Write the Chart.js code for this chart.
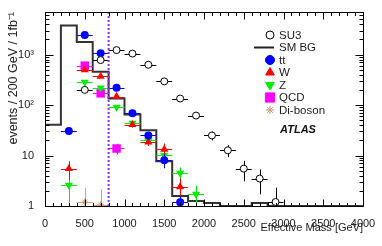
<!DOCTYPE html>
<html>
<head>
<meta charset="utf-8">
<script src="https://cdn.jsdelivr.net/npm/chart.js@4.4.0/dist/chart.umd.min.js"></script>
<style>
  html, body { margin: 0; padding: 0; background: #fff; }
  #wrap { width: 382px; height: 246px; }
</style>
</head>
<body>
<div id="wrap"><canvas id="c"></canvas></div>
<script>
// histogram bin edges (GeV) and SM background per 200 GeV bin
const binEdges = [0, 200, 400, 600, 800, 1000, 1200, 1400, 1600, 1800, 2000,
                  2200, 2400, 2600, 2800, 3000, 3200, 3400, 3600, 3800, 4000];
const smBg = [1, 41, 3800, 1790, 460, 135, 65, 31.6, 7.7, 1.57,
              1.25, 1.15, 1, 1, 1.15, 1, 1, 1, 1, 1];

// signal and background components (bin centres, values, errors)
const su3X = [500, 700, 900, 1100, 1300, 1500, 1700, 1900, 2100, 2300, 2500, 2700, 2900];
const su3Y = [200, 780, 1230, 1050, 630, 295, 135, 62, 25, 12.7, 5.5, 3.5, 1.2];
const su3Err = [14, 28, 35, 32, 25, 17, 12, 8, 5, 3.4, 2.4, 1.8, 1.1];

const ttX = [300, 500, 700, 900, 1100, 1300, 1500, 1700];
const ttY = [30.5, 2450, 1060, 220, 69, 25, 8.1, 1.18];
const ttErr = [5, 45, 30, 14, 7, 4, 2.5, 0.4];

const wX = [300, 500, 700, 900, 1100, 1300, 1500, 1700];
const wY = [5.5, 500, 370, 148, 41, 18.5, 13.3, 2.4];
const wErr = [2.2, 20, 18, 11, 5, 3, 4, 1.1];

const zX = [300, 500, 700, 900, 1100, 1300, 1500, 1700, 1900];
const zY = [2.6, 285, 220, 91, 44, 20, 10.2, 4.5, 1.73];
const zErr = [1.7, 16, 14, 9, 5, 3.5, 2.5, 1.3, 0.8];

const qcdX = [500, 700, 900];
const qcdY = [605, 171, 13.8];
const qcdErr = [45, 22, 3.3];

const dibX = [500, 700];
const dibY = [1.2, 1.05];
const dibErr = [1.1, 1.1];

const yTickVals = [1, 10, 100, 1000];
const yTickText = ['1', '10', '10\u00b2', '10\u00b3'];
const cutValue = 800;

Chart.defaults.font.family = '"Liberation Sans", Arial, Helvetica, sans-serif';
Chart.defaults.color = '#222';

function pts(xs, ys) {
  return xs.map((x, i) => ({ x: x, y: ys[i] }));
}

const histPts = binEdges.map((e, i) => ({ x: e, y: i < smBg.length ? smBg[i] : smBg[smBg.length - 1] }));

const datasets = [
  { label: 'SU3', data: pts(su3X, su3Y), err: su3Err, barColor: '#000',
    pointStyle: 'circle', pointRadius: 3.5, backgroundColor: '#fff', borderColor: '#000', borderWidth: 1, order: 1 },
  { label: 'tt', data: pts(ttX, ttY), err: ttErr, barColor: '#0000ff',
    pointStyle: 'circle', pointRadius: 4, backgroundColor: '#0000ff', borderColor: '#0000ff', borderWidth: 0, order: 2 },
  { label: 'W', data: pts(wX, wY), err: wErr, barColor: '#ff0000',
    pointStyle: 'triangle', pointRadius: 4.7, backgroundColor: '#ff0000', borderColor: '#ff0000', borderWidth: 0, order: 3 },
  { label: 'Z', data: pts(zX, zY), err: zErr, barColor: '#00ee00',
    pointStyle: 'triangle', rotation: 180, pointRadius: 4.7, backgroundColor: '#00ee00', borderColor: '#00ee00', borderWidth: 0, order: 4 },
  { label: 'QCD', data: pts(qcdX, qcdY), err: qcdErr, barColor: '#ff00ff',
    pointStyle: 'rect', pointRadius: 6, backgroundColor: '#ff00ff', borderColor: '#ff00ff', borderWidth: 0, order: 5 },
  { label: 'Di-boson', data: pts(dibX, dibY), err: dibErr, barColor: '#d2a07a',
    pointStyle: 'star', pointRadius: 3.5, backgroundColor: '#c8966e', borderColor: '#c8966e', borderWidth: 1, order: 6 },
  { type: 'line', label: 'SM BG', data: histPts, stepped: 'after', borderColor: '#333', borderWidth: 2,
    pointRadius: 0, fill: false, order: 7 }
];

// legend entries, drawn by hand inside the frame
const legendItems = [
  { text: 'SU3', style: 'circle', fill: '#fff', stroke: '#000', r: 4 },
  { text: 'SM BG', style: 'line' },
  { text: 'tt', style: 'circle', fill: '#0000ff', stroke: '#0000ff', r: 4.5 },
  { text: 'W', style: 'triangle', fill: '#ff0000', stroke: '#ff0000', r: 5 },
  { text: 'Z', style: 'triangle', rot: 180, fill: '#00ee00', stroke: '#00ee00', r: 5 },
  { text: 'QCD', style: 'rect', fill: '#ff00ff', stroke: '#ff00ff', r: 6.5 },
  { text: 'Di-boson', style: 'star', fill: '#c8966e', stroke: '#c8966e', r: 4 }
];

function px(v) { return Math.round(v) + 0.5; }

const rootStyle = {
  id: 'rootStyle',
  beforeDatasetDraw(chart, args) {
    const ds = chart.data.datasets[args.index];
    if (!ds.err) return;
    const ctx = chart.ctx, xs = chart.scales.x, ys = chart.scales.y, a = chart.chartArea;
    ctx.save();
    ctx.beginPath();
    ctx.rect(a.left, a.top, a.right - a.left, a.bottom - a.top);
    ctx.clip();
    ctx.strokeStyle = ds.barColor;
    ctx.lineWidth = 1;
    ds.data.forEach((p, i) => {
      const e = ds.err[i];
      const cx = px(xs.getPixelForValue(p.x));
      const cy = px(ys.getPixelForValue(p.y));
      const x0 = xs.getPixelForValue(p.x - 100);
      const x1 = xs.getPixelForValue(p.x + 100);
      const lo = ys.getPixelForValue(Math.max(p.y - e, 0.5));
      const hi = ys.getPixelForValue(p.y + e);
      ctx.beginPath();
      ctx.moveTo(x0, cy); ctx.lineTo(x1, cy);
      ctx.moveTo(cx, lo); ctx.lineTo(cx, hi);
      ctx.stroke();
    });
    ctx.restore();
  },
  afterDatasetsDraw(chart) {
    const ctx = chart.ctx, xs = chart.scales.x, ys = chart.scales.y, a = chart.chartArea;
    ctx.save();
    // cut line
    const cx = xs.getPixelForValue(cutValue);
    ctx.strokeStyle = '#9a2cf0';
    ctx.lineWidth = 2;
    ctx.setLineDash([2, 2]);
    ctx.beginPath();
    ctx.moveTo(cx, a.top); ctx.lineTo(cx, a.bottom);
    ctx.stroke();
    ctx.setLineDash([]);

    // frame
    ctx.strokeStyle = '#000';
    ctx.lineWidth = 1;
    const L = px(a.left), R = px(a.right), T = px(a.top), B = px(a.bottom);
    ctx.strokeRect(L, T, R - L, B - T);

    // ticks inside the frame
    ctx.beginPath();
    for (let v = 0; v <= 4000; v += 100) {
      const x = px(xs.getPixelForValue(v));
      const len = v % 500 === 0 ? 7 : 3.5;
      ctx.moveTo(x, B); ctx.lineTo(x, B - len);
      ctx.moveTo(x, T); ctx.lineTo(x, T + len);
    }
    yTickVals.forEach(d => {
      for (let m = 1; m <= 9; m++) {
        const v = d * m;
        if (v > ys.max) break;
        const y = px(ys.getPixelForValue(v));
        const len = m === 1 ? 8 : 4;
        ctx.moveTo(L, y); ctx.lineTo(L + len, y);
        ctx.moveTo(R, y); ctx.lineTo(R - len, y);
      }
    });
    ctx.stroke();

    // legend
    const lx = 270, tx = 279;
    ctx.font = '11.5px "Liberation Sans", Arial, sans-serif';
    ctx.textBaseline = 'middle';
    ctx.textAlign = 'left';
    legendItems.forEach((it, i) => {
      const y = 35 + i * 12.5;
      if (it.style === 'line') {
        ctx.strokeStyle = '#222';
        ctx.lineWidth = 2;
        ctx.beginPath();
        ctx.moveTo(254, y); ctx.lineTo(274, y);
        ctx.stroke();
      } else {
        ctx.fillStyle = it.fill;
        ctx.strokeStyle = it.stroke;
        ctx.lineWidth = 1;
        Chart.helpers.drawPoint(ctx, { pointStyle: it.style, radius: it.r, rotation: it.rot || 0, borderWidth: 1 }, lx, y);
      }
      ctx.fillStyle = '#222';
      ctx.fillText(it.text, tx, y + 0.5);
    });

    // experiment label
    ctx.font = 'italic bold 11px "Liberation Sans", Arial, sans-serif';
    ctx.textAlign = 'center';
    ctx.fillStyle = '#111';
    ctx.fillText('ATLAS', 298, 130);
    ctx.restore();
  }
};

new Chart(document.getElementById('c'), {
  type: 'scatter',
  data: { datasets: datasets },
  options: {
    responsive: true,
    maintainAspectRatio: false,
    animation: false,
    devicePixelRatio: 1,
    layout: { padding: { left: 0, right: 19, top: 12, bottom: 0 } },
    plugins: { legend: { display: false }, tooltip: { enabled: false } },
    scales: {
      x: {
        type: 'linear',
        min: 0,
        max: 4000,
        grid: { display: false },
        border: { display: false },
        ticks: { stepSize: 500, padding: 3, maxRotation: 0, font: { size: 11 }, color: '#222',
                 callback: v => String(v) },
        title: { display: true, text: 'Effective Mass [GeV]', align: 'end', color: '#222',
                 font: { size: 11 }, padding: { top: 0, bottom: 11 } },
        afterFit: s => { s.height = 40; }
      },
      y: {
        type: 'logarithmic',
        min: 1,
        max: 7000,
        grid: { display: false },
        border: { display: false },
        afterBuildTicks: s => { s.ticks = yTickVals.map(v => ({ value: v })); },
        ticks: { padding: 3, font: { size: 11 }, color: '#222',
                 callback: v => yTickText[yTickVals.indexOf(v)] },
        title: { display: true, text: 'events / 200 GeV / 1fb\u207b\u00b9', align: 'end', color: '#222',
                 font: { size: 12.5 }, padding: { top: 6, bottom: 0 } },
        afterFit: s => { s.width = 45; }
      }
    }
  },
  plugins: [rootStyle]
});
</script>
</body>
</html>
